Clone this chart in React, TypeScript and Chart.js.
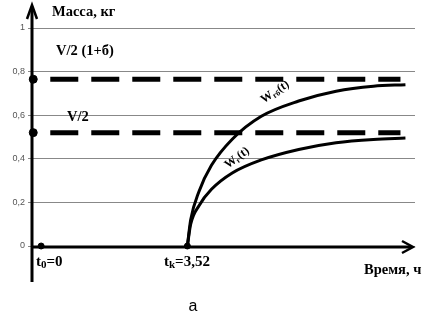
import React, { useEffect, useRef } from "react";
import { Chart, registerables } from "chart.js";
Chart.register(...registerables);

// Data
const upperT = [3.52, 3.6, 3.8, 4.1, 4.6, 5.3, 6.2, 7.1, 8.0, 8.77];
const upperW = [0, 0.12, 0.25, 0.37, 0.49, 0.595, 0.665, 0.71, 0.733, 0.74];
const lowerT = [3.52, 3.6, 3.8, 4.1, 4.6, 5.3, 6.2, 7.1, 8.0, 8.77];
const lowerW = [0, 0.1, 0.185, 0.26, 0.335, 0.395, 0.443, 0.474, 0.489, 0.495];
const limitHigh = 0.765; // V/2 (1+б)
const limitLow = 0.52; // V/2
const dashStartT = 0.22;
const dashEndT = 8.65;
const markerT = -0.19;
const t0 = 0;
const tk = 3.52;
const yTicks = [0, 0.2, 0.4, 0.6, 0.8, 1];
const yTickLabels = ["0", "0,2", "0,4", "0,6", "0,8", "1"];

const xMin = -0.22;
const xMax = 9.0;

const serif = '"Liberation Serif", "Times New Roman", serif';

export default function App() {
  const ref = useRef<HTMLCanvasElement | null>(null);
  useEffect(() => {
    document.body.style.margin = "0";
    const canvas = ref.current!;
    const overlay = {
      id: "overlay",
      afterDraw(chart: any) {
        const ctx = chart.ctx as CanvasRenderingContext2D;
        const ys = chart.scales.y;
        const ax = chart.chartArea.left;
        const ay0 = ys.getPixelForValue(0) + 1;
        ctx.save();
        ctx.strokeStyle = "#000";
        ctx.fillStyle = "#000";
        ctx.lineWidth = 3;
        // y axis
        ctx.beginPath();
        ctx.moveTo(ax, 282);
        ctx.lineTo(ax, 8);
        ctx.stroke();
        ctx.beginPath();
        ctx.lineWidth = 2.5;
        ctx.moveTo(ax - 5, 19);
        ctx.lineTo(ax, 5);
        ctx.lineTo(ax + 5, 19);
        ctx.stroke();
        // x axis
        ctx.lineWidth = 3;
        ctx.beginPath();
        ctx.moveTo(ax, ay0);
        ctx.lineTo(412, ay0);
        ctx.stroke();
        ctx.lineWidth = 2.5;
        ctx.beginPath();
        ctx.moveTo(402, ay0 - 6);
        ctx.lineTo(413, ay0);
        ctx.lineTo(402, ay0 + 6);
        ctx.stroke();

        // texts
        ctx.textBaseline = "middle";
        ctx.textAlign = "left";
        ctx.font = `bold 14.5px ${serif}`;
        ctx.fillText("Масса, кг", 52, 12);
        ctx.fillText("V/2 (1+б)", 56, 51);
        ctx.fillText("V/2", 67, 117);
        ctx.fillText("Время, ч", 364, 270);

        const sub = (x: number, y: number, a: string, s: string, b: string, fs: number) => {
          ctx.font = `bold ${fs}px ${serif}`;
          ctx.fillText(a, x, y);
          let w = ctx.measureText(a).width;
          ctx.font = `bold ${Math.round(fs * 0.7)}px ${serif}`;
          ctx.fillText(s, x + w, y + 3);
          w += ctx.measureText(s).width;
          ctx.font = `bold ${fs}px ${serif}`;
          ctx.fillText(b, x + w, y);
        };
        sub(36, 262, "t", "0", "=0", 15);
        sub(164, 262, "t", "k", "=3,52", 15);

        // curve labels
        const rot = (cx: number, cy: number, ang: number, s: string) => {
          ctx.save();
          ctx.translate(cx, cy);
          ctx.rotate(ang);
          ctx.textAlign = "left";
          ctx.font = `bold 12px ${serif}`;
          const w1 = ctx.measureText("W").width;
          ctx.font = `bold 8px ${serif}`;
          const w2 = ctx.measureText(s).width;
          ctx.font = `bold 12px ${serif}`;
          const w3 = ctx.measureText("(t)").width;
          let x = -(w1 + w2 + w3) / 2;
          ctx.fillText("W", x, 0);
          x += w1;
          ctx.font = `bold 8px ${serif}`;
          ctx.fillText(s, x, 3);
          x += w2;
          ctx.font = `bold 12px ${serif}`;
          ctx.fillText("(t)", x, 0);
          ctx.restore();
        };
        rot(275, 92, -0.6, "гб");
        rot(237, 158, -0.65, "г");

        ctx.font = `16px "Liberation Sans", Arial, sans-serif`;
        ctx.textAlign = "center";
        ctx.fillText("а", 193, 307);
        ctx.restore();
      },
    };

    const chart = new Chart(canvas, {
      type: "scatter",
      data: {
        datasets: [
          {
            data: [{ x: dashStartT, y: limitHigh }, { x: dashEndT, y: limitHigh }],
            showLine: true,
            borderColor: "#000",
            borderWidth: 5,
            borderDash: [28, 13],
            borderCapStyle: "butt",
            pointRadius: 0,
          },
          {
            data: [{ x: dashStartT, y: limitLow }, { x: dashEndT, y: limitLow }],
            showLine: true,
            borderColor: "#000",
            borderWidth: 5,
            borderDash: [28, 13],
            borderCapStyle: "butt",
            pointRadius: 0,
          },
          {
            data: upperT.map((t, i) => ({ x: t, y: upperW[i] })),
            showLine: true,
            borderColor: "#000",
            borderWidth: 3,
            cubicInterpolationMode: "monotone",
            pointRadius: 0,
          },
          {
            data: lowerT.map((t, i) => ({ x: t, y: lowerW[i] })),
            showLine: true,
            borderColor: "#000",
            borderWidth: 3,
            cubicInterpolationMode: "monotone",
            pointRadius: 0,
          },
          {
            data: [
              { x: markerT, y: limitHigh },
              { x: markerT, y: limitLow },
            ],
            showLine: false,
            pointRadius: 4,
            backgroundColor: "#000",
            borderColor: "#000",
          },
          {
            data: [
              { x: t0, y: 0 },
              { x: tk, y: 0 },
            ],
            showLine: false,
            pointRadius: 3,
            backgroundColor: "#000",
            borderColor: "#000",
          },
        ],
      },
      plugins: [overlay],
      options: {
        animation: false,
        responsive: false,
        maintainAspectRatio: false,
        clip: false as any,
        layout: { padding: { top: 28, bottom: 71, right: 17, left: 0 } },
        plugins: { legend: { display: false }, tooltip: { enabled: false } },
        scales: {
          x: { type: "linear", min: xMin, max: xMax, display: false },
          y: {
            type: "linear",
            min: 0,
            max: 1,
            afterFit: (s: any) => {
              s.width = 32;
            },
            afterBuildTicks: (s: any) => {
              s.ticks = yTicks.map((v) => ({ value: v }));
            },
            border: { display: false },
            grid: {
              color: "#888",
              lineWidth: 1,
              tickLength: 4,
              drawTicks: true,
              tickColor: "#888",
            },
            ticks: {
              padding: 3,
              color: "#555",
              font: { size: 9, family: '"Liberation Sans", Arial, sans-serif' },
              callback: (v: any) => {
                const i = yTicks.indexOf(v);
                return i >= 0 ? yTickLabels[i] : "";
              },
            },
          },
        },
      },
    });
    return () => chart.destroy();
  }, []);
  return (
    <div style={{ width: 432, height: 317 }}>
      <canvas ref={ref} width={432} height={317} style={{ width: 432, height: 317 }} />
    </div>
  );
}
